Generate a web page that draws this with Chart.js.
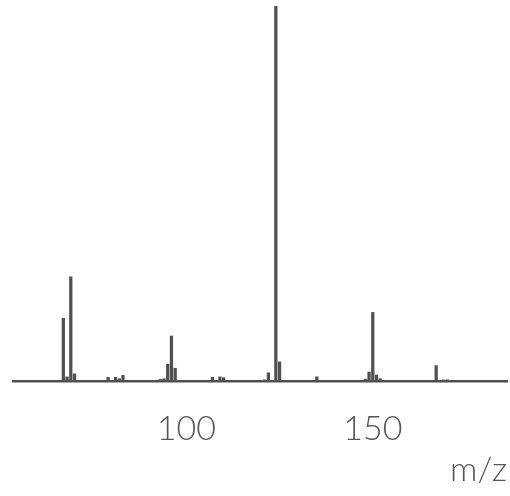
<!DOCTYPE html>
<html>
<head>
<meta charset="utf-8">
<script src="https://cdn.jsdelivr.net/npm/chart.js@4/dist/chart.umd.min.js"></script>
<style>
html,body{margin:0;padding:0;background:#fff;}
canvas{display:block;}
</style>
</head>
<body>
<canvas id="c" width="510" height="496"></canvas>
<script>
const masses = [67,68,69,70,79,81,82,83,93,94,95,96,97,107,109,110,121,122,124,125,135,148,149,150,151,152,167,169,170];
const intensities = [16.7,1.1,27.8,1.9,1.0,1.0,0.6,1.5,0.4,0.6,4.5,12.0,3.4,1.0,1.1,0.9,0.3,2.2,100,5.1,1.1,0.5,2.4,18.3,1.6,0.6,4.1,0.3,0.3];
const tickValues = [100,150];
const axisTitle = 'm/z';

const ink = '#505050';
new Chart(document.getElementById('c'), {
  type: 'bar',
  data: {
    datasets: [{
      data: masses.map((m, i) => ({x: m, y: intensities[i]})),
      backgroundColor: ink,
      borderWidth: 0,
      barThickness: 2.6,
      grouped: false
    }]
  },
  options: {
    responsive: false,
    animation: false,
    devicePixelRatio: 1,
    layout: {padding: {top: 6, left: 13, right: 3, bottom: 0}},
    plugins: {legend: {display: false}, tooltip: {enabled: false}},
    scales: {
      x: {
        type: 'linear',
        offset: false,
        min: 53.5,
        max: 186,
        grid: {display: false, drawTicks: false, offset: false},
        border: {display: true, color: ink, width: 2.5},
        afterBuildTicks: s => { s.ticks = tickValues.map(v => ({value: v})); },
        ticks: {
          font: {family: 'Lato', size: 34, weight: 300},
          color: '#555',
          padding: 28,
          autoSkip: false,
          maxRotation: 0
        },
        title: {
          display: true,
          text: axisTitle,
          align: 'end',
          color: '#555',
          font: {family: 'Lato', size: 34, weight: 300},
          padding: {top: 0, bottom: 6}
        },
        afterFit: s => { s.height = 115; }
      },
      y: {display: false, min: 0, max: 100}
    }
  }
});
</script>
</body>
</html>
